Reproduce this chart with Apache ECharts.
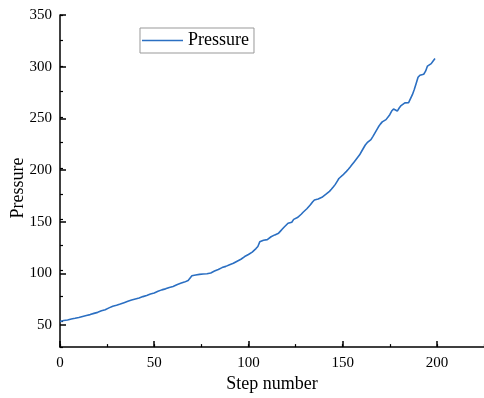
<!DOCTYPE html>
<html>
<head>
<meta charset="utf-8">
<script src="https://cdn.jsdelivr.net/npm/echarts@6/dist/echarts.min.js"></script>
<style>
html,body{margin:0;padding:0;background:#fff;}
#chart{width:484px;height:398px;}
</style>
</head>
<body>
<div id="chart"></div>
<script>
var seriesName = 'Pressure';
var xTitle = 'Step number';
var yTitle = 'Pressure';
var steps = [];
for (var i = 0; i < 200; i++) steps.push(i);
var pressure = [
50.0, 50.6, 51.0, 51.4, 51.6, 52.0, 52.5, 52.8, 53.2, 53.6,
54.0, 54.6, 55.0, 55.3, 56.0, 56.5, 56.8, 57.4, 58.0, 58.5,
59.0, 59.8, 60.5, 61.0, 61.6, 62.5, 63.4, 64.0, 65.0, 65.6,
66.0, 66.6, 67.2, 68.0, 68.5, 69.0, 69.8, 70.4, 71.0, 71.4,
72.0, 72.4, 73.0, 73.8, 74.4, 75.0, 75.6, 76.4, 77.0, 77.6,
78.0, 78.8, 79.6, 80.4, 81.0, 81.4, 82.0, 82.8, 83.4, 84.0,
84.4, 85.2, 86.0, 86.6, 87.4, 88.0, 88.6, 89.4, 90.2, 91.0,
94.8, 95.2, 95.6, 96.0, 96.2, 96.4, 96.5, 96.6, 96.8, 97.0,
97.6, 98.4, 99.4, 100.4, 101.0, 102.0, 102.8, 103.4, 104.0, 104.8,
105.6, 106.2, 107.0, 108.0, 109.0, 110.0, 111.0, 112.2, 113.6, 114.6,
115.6, 116.8, 118.0, 119.6, 121.4, 123.5, 128.0, 129.4, 129.6, 129.8,
130.2, 131.5, 133.0, 134.0, 134.8, 135.6, 136.5, 138.5, 140.5, 142.5,
144.2, 146.2, 146.6, 147.2, 150.0, 151.2, 151.8, 153.0, 155.0, 157.0,
158.6, 160.4, 162.2, 164.5, 167.0, 169.0, 169.6, 170.0, 170.4, 171.6,
173.0, 174.4, 175.8, 177.4, 179.4, 181.6, 184.0, 187.0, 190.0, 191.6,
193.2, 195.0, 197.0, 199.0, 201.2, 203.6, 206.0, 208.4, 210.8, 213.2,
216.4, 219.6, 222.8, 225.0, 226.0, 228.0, 231.0, 234.2, 237.4, 240.6,
243.2, 245.4, 246.6, 247.6, 249.0, 252.4, 256.0, 258.0, 257.0, 256.0,
259.0, 261.4, 262.4, 264.0, 264.8, 264.2, 266.0, 272.0, 277.0, 283.0,
289.0, 291.0, 290.0, 292.0, 295.0, 300.0, 301.8, 302.4, 305.0, 307.5
];
var xTicks = [0, 50, 100, 150, 200];
var yTicks = [50, 100, 150, 200, 250, 300, 350];

var data = steps.map(function (s, i) { return [s, pressure[i]]; });
var FONT = '"Liberation Serif", "Times New Roman", serif';
var chart = echarts.init(document.getElementById('chart'), null, {renderer: 'canvas'});
chart.setOption({
  animation: false,
  backgroundColor: '#fff',
  grid: [
    {left: 60, top: 15, width: 429, height: 335.7},
    {left: 60, top: 15, width: 429, height: 309.9}
  ],
  legend: {
    left: 140, top: 28,
    padding: [3, 5, 3, 2],
    borderColor: '#999', borderWidth: 1,
    icon: 'rect', itemWidth: 41, itemHeight: 1.5,
    textStyle: {fontFamily: FONT, fontSize: 18, color: '#000', lineHeight: 19},
    data: [seriesName]
  },
  xAxis: [
    {gridIndex: 0, type: 'value', position: 'bottom', min: 0, max: 225, interval: 25,
     axisLine: {show: true, lineStyle: {color: '#000', width: 1.5}},
     axisTick: {show: true, inside: true, length: 3, lineStyle: {color: '#000', width: 1.2}},
     axisLabel: {show: false}, splitLine: {show: false}},
    {gridIndex: 0, type: 'value', position: 'bottom', min: 0, max: 225, interval: 50,
     axisLine: {show: false},
     axisTick: {show: true, inside: true, length: 6, lineStyle: {color: '#000', width: 1.5}},
     axisLabel: {show: true, margin: 8, showMaxLabel: false, fontFamily: FONT, fontSize: 15, color: '#000',
       formatter: function (v) { return xTicks.indexOf(v) >= 0 ? String(v) : ''; }},
     splitLine: {show: false},
     name: xTitle, nameLocation: 'middle', nameGap: 26,
     nameTextStyle: {fontFamily: FONT, fontSize: 18, color: '#000'}},
    {gridIndex: 1, type: 'value', min: 0, max: 225, show: false}
  ],
  yAxis: [
    {gridIndex: 0, type: 'value', min: 25, max: 350, interval: 25,
     axisLine: {show: true, lineStyle: {color: '#000', width: 1.5}},
     axisTick: {show: true, inside: true, length: 3, lineStyle: {color: '#000', width: 1.2}},
     axisLabel: {show: false}, splitLine: {show: false},
     name: yTitle, nameLocation: 'middle', nameGap: 33,
     nameTextStyle: {fontFamily: FONT, fontSize: 18, color: '#000', padding: [0, 14, 0, 0]}},
    {gridIndex: 1, type: 'value', min: 50, max: 350, interval: 50,
     axisLine: {show: false},
     axisTick: {show: true, inside: true, length: 6, lineStyle: {color: '#000', width: 1.5}},
     axisLabel: {show: true, margin: 8, fontFamily: FONT, fontSize: 15, color: '#000',
       formatter: function (v) { return yTicks.indexOf(v) >= 0 ? String(v) : ''; }},
     splitLine: {show: false}}
  ],
  series: [{
    name: seriesName, type: 'line', xAxisIndex: 0, yAxisIndex: 0,
    data: data, symbol: 'none', showSymbol: false,
    lineStyle: {color: '#2b6fc2', width: 1.6},
    itemStyle: {color: '#2b6fc2'}
  }]
});
</script>
</body>
</html>
